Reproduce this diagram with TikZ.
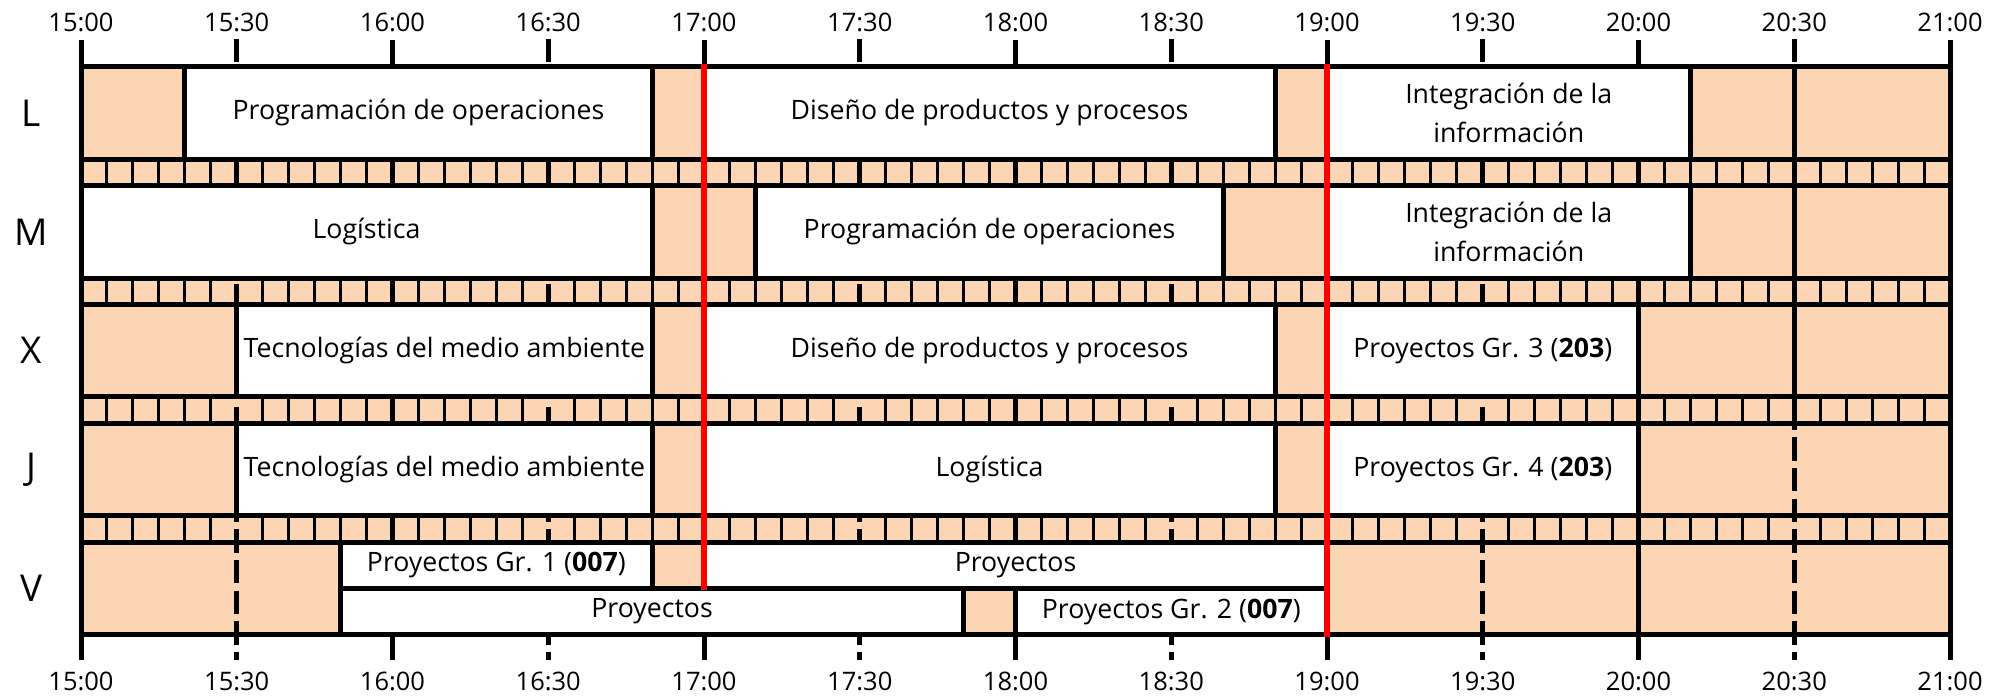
\documentclass[tikz,border=0pt]{standalone}
\usepackage{fontspec}
\setmainfont{Open Sans}
\definecolor{peach}{HTML}{FCD5B4}
\newcommand\mycourse[6]{%
  \draw[box] (#2,#4) rectangle (#3,#5);
  \node[lbl] (#1) at ({(#2+#3)/2},{(#4+#5)/2}) {#6};}
\begin{document}
\begin{tikzpicture}[x=5.191667pt,y=-1pt,
  thickline/.style={line width=5pt},
  thinline/.style={line width=3pt},
  box/.style={fill=white,draw=black,line width=5pt},
  lbl/.style={font=\fontsize{26.7}{38.5}\selectfont,align=center,inner sep=0pt},
  tlbl/.style={font=\fontsize{25.5}{30}\selectfont,inner sep=0pt},
  rlbl/.style={font=\fontsize{37}{40}\selectfont,inner sep=0pt},
  redline/.style={draw=red,line width=6.5pt},
  half/.style={line width=5pt,dash pattern=on 23.3pt off 7.36pt}]
\useasboundingbox (-15.602,0) rectangle (371.17,696);
\fill[peach] (0,66.7) rectangle (360,634.7);
% 5-minute separators in the stripes
\foreach \r in {0,1,2,3} {
  \pgfmathsetmacro\st{66.7+118.9*\r+92.4}
  \pgfmathsetmacro\sb{66.7+118.9*\r+118.9}
  \foreach \t in {5,10,...,355} {
    \pgfmathtruncatemacro\m{mod(\t,30)}
    \ifnum\m>0 \draw[thinline] (\t,\st) -- (\t,\sb);\fi
  }
}
% hour lines and half-hour lines
\foreach \t in {0,60,...,360} \draw[thickline] (\t,40) -- (\t,660);
\foreach \t in {30,90,...,330} \draw[half] (\t,38.8) -- (\t,660);
% horizontal lines
\foreach \y in {66.7,159.1,185.6,278.0,304.5,396.9,423.4,515.8,542.3,634.7}
  \draw[thickline] (0,\y) -- (360,\y);
% L
\mycourse{L1}{20}{110}{66.7}{159.1}{Programación de operaciones}
\mycourse{L2}{120}{230}{66.7}{159.1}{Diseño de productos y procesos}
\mycourse{L3}{240}{310}{66.7}{159.1}{Integración de la\\información}
% M
\mycourse{M1}{0}{110}{185.6}{278.0}{Logística}
\mycourse{M2}{130}{220}{185.6}{278.0}{Programación de operaciones}
\mycourse{M3}{240}{310}{185.6}{278.0}{Integración de la\\información}
% X
\mycourse{X1}{30}{110}{304.5}{396.9}{Tecnologías del medio ambiente}
\mycourse{X2}{120}{230}{304.5}{396.9}{Diseño de productos y procesos}
\mycourse{X3}{240}{300}{304.5}{396.9}{Proyectos Gr. 3 (\textbf{203})}
% J
\mycourse{J1}{30}{110}{423.4}{515.8}{Tecnologías del medio ambiente}
\mycourse{J2}{120}{230}{423.4}{515.8}{Logística}
\mycourse{J3}{240}{300}{423.4}{515.8}{Proyectos Gr. 4 (\textbf{203})}
% V
\mycourse{V1}{50}{110}{542.3}{588.5}{Proyectos Gr. 1 (\textbf{007})}
\mycourse{V2}{120}{240}{542.3}{588.5}{Proyectos}
\mycourse{V3}{50}{170}{588.5}{634.7}{Proyectos}
\mycourse{V4}{180}{240}{588.5}{634.7}{Proyectos Gr. 2 (\textbf{007})}
% solid 20:30 line in the upper rows
\draw[thickline] (330,66.7) -- (330,423.4);
% red lines
\draw[redline] (120,64) -- (120,590);
\draw[redline] (240,64) -- (240,637);
% row labels
\node[rlbl] (rL) at (-9.6,112.9) {L};
\node[rlbl] (rM) at (-9.6,231.8) {M};
\node[rlbl] (rX) at (-9.6,350.7) {X};
\node[rlbl] (rJ) at (-9.6,469.6) {J};
\node[rlbl] (rV) at (-9.6,588.5) {V};
% time labels
\foreach \t/\s [count=\i] in {0/15:00,30/15:30,60/16:00,90/16:30,120/17:00,150/17:30,180/18:00,210/18:30,240/19:00,270/19:30,300/20:00,330/20:30,360/21:00} {
  \node[tlbl] (top\i) at (\t,22.5) {\s};
  \node[tlbl] (bot\i) at (\t,681) {\s};
}
\end{tikzpicture}
\end{document}
